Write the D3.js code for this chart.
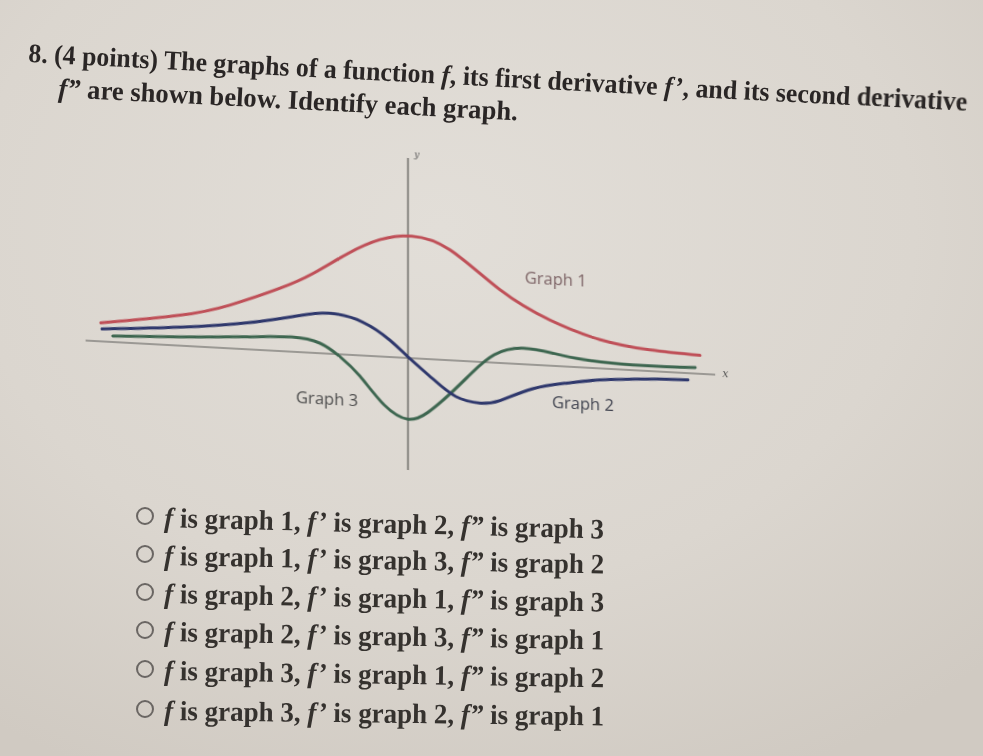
<!DOCTYPE html>
<html><head><meta charset="utf-8">
<script src="https://cdn.jsdelivr.net/npm/d3@7"></script>
<style>html,body{margin:0;padding:0;background:#d9d4cd;overflow:hidden}svg{display:block}</style>
</head><body>
<svg id="c" width="983" height="756"></svg>
<script>
// ---- data (x in axis units, y in axis units) ----
const graph1 = [[-3.84,0.46],[-2.85,0.76],[-2.23,1.08],[-1.6,1.57],[-1.19,1.98],[-0.76,2.52],[-0.35,2.92],[0.05,3.05],[0.525,2.76],[1.15,1.83],[1.775,1.14],[2.4,0.72],[3.025,0.53],[3.65,0.46]];
const graph2 = [[-3.825,0.31],[-2.85,0.46],[-2.01,0.66],[-1.39,0.9],[-0.975,1.01],[-0.56,0.83],[-0.225,0.42],[0,0.03],[0.3,-0.47],[0.6,-0.9],[0.9,-1.03],[1.15,-0.94],[1.56,-0.6],[1.99,-0.41],[2.4,-0.29],[3.025,-0.2],[3.5,-0.17]];
const graph3 = [[-3.69,0.15],[-2.85,0.22],[-2.01,0.31],[-1.45,0.37],[-1.1,0.25],[-0.85,-0.06],[-0.6,-0.52],[-0.3,-1.2],[0,-1.53],[0.25,-1.33],[0.525,-0.84],[0.8,-0.28],[1.08,0.2],[1.42,0.4],[1.8,0.32],[2.19,0.2],[2.81,0.13],[3.59,0.15]];
const seriesNames = ["Graph 1","Graph 2","Graph 3"];
const xAxisExtent = [-4.03, 3.84];
const yAxisExtent = [-2.8, 5.0];
const titleLines = ["8. (4 points) The graphs of a function |f|, its first derivative |f’|, and its second derivative", "|f”| are shown below. Identify each graph."];
const choices = [[1,2,3],[1,3,2],[2,1,3],[2,3,1],[3,1,2],[3,2,1]];

// ---- layout / style ----
const svg = d3.select("#c");
const defs = svg.append("defs");
const rg = defs.append("radialGradient").attr("id","paper").attr("cx","45%").attr("cy","30%").attr("r","80%");
rg.append("stop").attr("offset","0%").attr("stop-color","#e2ded8");
rg.append("stop").attr("offset","60%").attr("stop-color","#dbd6cf");
rg.append("stop").attr("offset","100%").attr("stop-color","#d0cac2");
defs.append("filter").attr("id","soft").append("feGaussianBlur").attr("stdDeviation",0.45);
svg.append("rect").attr("width",983).attr("height",756).attr("fill","url(#paper)");

const root = svg.append("g").attr("filter","url(#soft)");

// draw a tilted line of text word by word (each word its own text element on the tilted baseline)
function tiltedText(parent, str, x0, y0, ang, totalLen, style){
  const runs = str.split("|").map((t,i)=>({t, it: i%2===1})).filter(r=>r.t.length);
  const chars = [];
  runs.forEach(r=>{ for(const ch of r.t) chars.push({ch, it:r.it}); });
  const applyStyle = sel => { Object.entries(style).forEach(([k,v])=>sel.attr(k,v)); return sel; };
  const tmp = applyStyle(parent.append("text").attr("x",0).attr("y",0).attr("opacity",0).attr("xml:space","preserve"));
  runs.forEach(r=>tmp.append("tspan").text(r.t).attr("font-style", r.it?"italic":"normal"));
  const node = tmp.node();
  const total = node.getComputedTextLength();
  const k = totalLen/total;
  const words = [];
  let i=0;
  while(i<chars.length){
    if(chars[i].ch===" "){ i++; continue; }
    let j=i; while(j<chars.length && chars[j].ch!==" ") j++;
    words.push({start:i, len:j-i});
    i=j;
  }
  const offs = words.map(w=>({off: w.start>0 ? node.getSubStringLength(0,w.start) : 0, wid: node.getSubStringLength(w.start,w.len)}));
  tmp.remove();
  const a = ang*Math.PI/180;
  words.forEach((w,wi)=>{
    const o = offs[wi].off*k;
    const px = x0 + o*Math.cos(a), py = y0 + o*Math.sin(a);
    const t = applyStyle(parent.append("text").attr("x",px).attr("y",py)
      .attr("transform",`rotate(${ang},${px},${py})`)
      .attr("textLength",offs[wi].wid*k).attr("lengthAdjust","spacingAndGlyphs"));
    let cur=null;
    for(let c=w.start;c<w.start+w.len;c++){
      if(!cur || cur.it!==chars[c].it){ cur={it:chars[c].it, s:""}; cur.el=t.append("tspan").attr("font-style",cur.it?"italic":"normal"); }
      cur.s+=chars[c].ch; cur.el.text(cur.s);
    }
  });
}

const serifBold = {"font-family":"'Liberation Serif','DejaVu Serif',serif","font-weight":"bold"};
const titleLayout = [{x:28,y:62,ang:3.0,len:940},{x:58,y:97,ang:2.9,len:460}];
titleLines.forEach((t,i)=>{
  const L = titleLayout[i];
  tiltedText(root, t, L.x, L.y, L.ang, L.len, Object.assign({"font-size":27,"fill":"#2c2826"}, serifBold));
});

// chart
const chart = root.append("g").attr("transform","translate(408,358) skewY(3.1)");
const x = d3.scaleLinear().domain([-4,4]).range([-320,320]);
const y = d3.scaleLinear().domain([0,1]).range([0,-40]);

const axisLine = d3.line().x(d=>x(d[0])).y(d=>y(d[1]));
chart.append("path").attr("d",axisLine([[xAxisExtent[0],0],[xAxisExtent[1],0]]))
  .attr("stroke","#85837f").attr("stroke-width",1.6).attr("fill","none");
chart.append("path").attr("d",axisLine([[0,yAxisExtent[0]],[0,yAxisExtent[1]]]))
  .attr("stroke","#6a6966").attr("stroke-width",1.5).attr("fill","none");
chart.append("text").attr("x",x(3.93)).attr("y",y(-0.05)).text("x")
  .attr("font-family","'DejaVu Serif',serif").attr("font-style","italic").attr("font-size",11).attr("fill","#555");
chart.append("text").attr("x",x(0.08)).attr("y",y(5.02)).text("y")
  .attr("font-family","'DejaVu Serif',serif").attr("font-style","italic").attr("font-size",9).attr("fill","#555");

const curve = d3.line().x(d=>x(d[0])).y(d=>y(d[1])).curve(d3.curveNatural);
const colors = ["#bf5058","#2e376c","#3d6650"];
[graph3, graph2, graph1].forEach((g,i)=>{
  const idx = 2-i;
  chart.append("path").attr("d",curve(g)).attr("fill","none")
    .attr("stroke",colors[idx]).attr("stroke-width",3).attr("stroke-linecap","round");
});
const labelPos = [[1.46,2.03],[1.8,-1.05],[-1.4,-1.28]];
const labelColors = ["#7d6466","#40434f","#4d4d4d"];
seriesNames.forEach((n,i)=>{
  chart.append("text").attr("x",x(labelPos[i][0])).attr("y",y(labelPos[i][1])).text(n)
    .attr("font-family","'Open Sans','Noto Sans',sans-serif").attr("font-size",17)
    .attr("fill",labelColors[i]).attr("textLength",62).attr("lengthAdjust","spacingAndGlyphs");
});

// choices
const choiceLayout = [{y:527,ang:1.5},{y:565,ang:1.1},{y:603,ang:1.1},{y:641,ang:1.1},{y:680,ang:0.95},{y:720,ang:0.7}];
choices.forEach((c,i)=>{
  const L = choiceLayout[i];
  root.append("circle").attr("cx",145).attr("cy",L.y-11).attr("r",8)
    .attr("fill","none").attr("stroke","#6a6663").attr("stroke-width",2);
  tiltedText(root, `|f| is graph ${c[0]}, |f’| is graph ${c[1]}, |f”| is graph ${c[2]}`,
    164, L.y, L.ang, 440, Object.assign({"font-size":28,"fill":"#35312f"}, serifBold));
});
</script>
</body></html>
